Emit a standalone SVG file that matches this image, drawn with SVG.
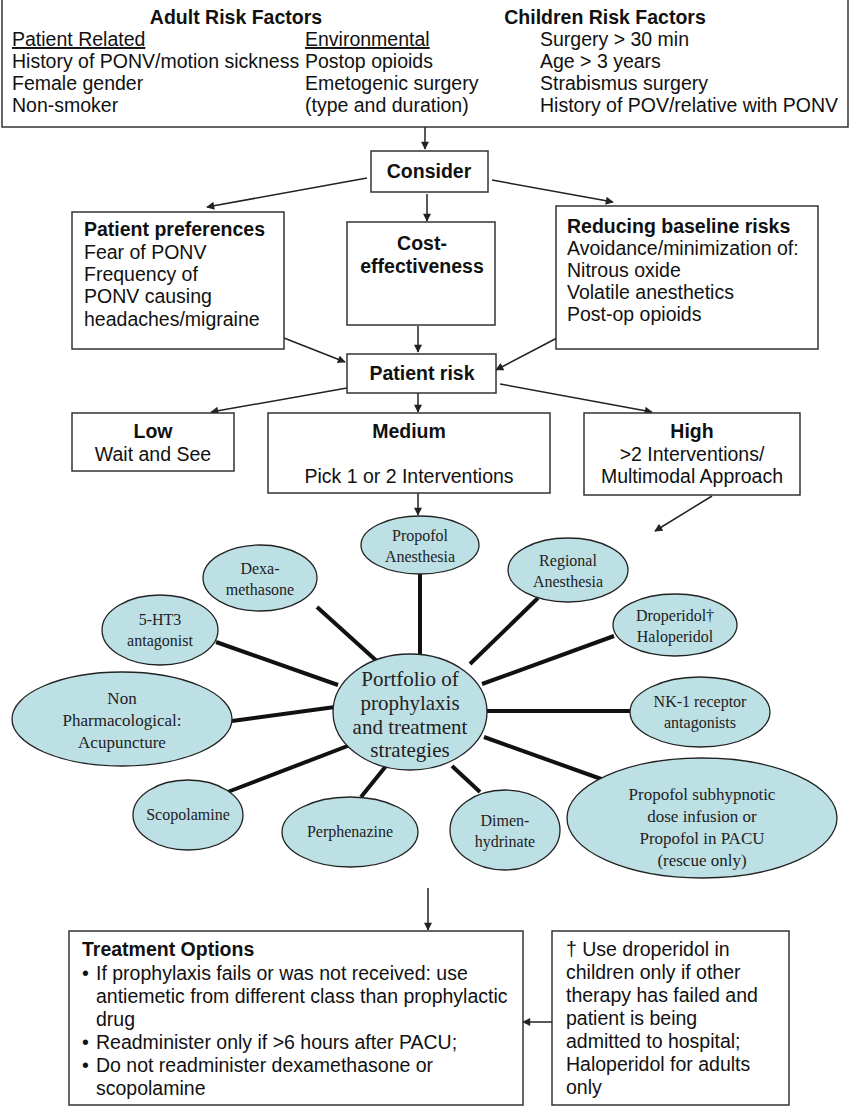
<svg xmlns="http://www.w3.org/2000/svg" width="850" height="1117" viewBox="0 0 850 1117">
<style>
.box{fill:#fff;stroke:#333;stroke-width:1.5}
.t{font-family:"Liberation Sans",Arial,sans-serif;font-size:19.5px;fill:#111}
.b{font-weight:bold}
.m{text-anchor:middle}
.ell{fill:#bde0e5;stroke:#222;stroke-width:1.3}
.s{font-family:"Liberation Serif","Times New Roman",serif;font-size:16px;fill:#222;text-anchor:middle}
.arr{stroke:#222;stroke-width:1.5;fill:none;marker-end:url(#ah)}
.spoke{stroke:#111;stroke-width:4;fill:none}
</style>
<defs>
<marker id="ah" viewBox="0 0 10 10" refX="9" refY="5" markerWidth="9" markerHeight="8" markerUnits="userSpaceOnUse" orient="auto">
<path d="M0,0 L10,5 L0,10 z" fill="#222"/>
</marker>
</defs>
<rect width="850" height="1117" fill="#fff"/>

<g id="connectors">
<line class="arr" x1="425" y1="127" x2="425" y2="149"/>
<line class="arr" x1="367" y1="178" x2="207" y2="207"/>
<line class="arr" x1="427" y1="194" x2="427" y2="221"/>
<line class="arr" x1="492" y1="180" x2="613" y2="202"/>
<line class="arr" x1="284" y1="338" x2="345" y2="362"/>
<line class="arr" x1="418" y1="326" x2="418" y2="352"/>
<line class="arr" x1="557" y1="338" x2="496" y2="370"/>
<line class="arr" x1="347" y1="388" x2="211" y2="412"/>
<line class="arr" x1="418" y1="393" x2="418" y2="412"/>
<line class="arr" x1="500" y1="384" x2="652" y2="412"/>
<line class="arr" x1="418" y1="493" x2="418" y2="515"/>
<line class="arr" x1="712" y1="496" x2="655" y2="531"/>
<line class="spoke" x1="420" y1="574" x2="420" y2="655"/>
<line class="spoke" x1="317" y1="607" x2="380" y2="664"/>
<line class="spoke" x1="538" y1="598" x2="470" y2="664"/>
<line class="spoke" x1="614" y1="636" x2="482" y2="684"/>
<line class="spoke" x1="216" y1="642" x2="338" y2="685"/>
<line class="spoke" x1="487" y1="711" x2="630" y2="711"/>
<line class="spoke" x1="232" y1="721" x2="335" y2="707"/>
<line class="spoke" x1="225" y1="793" x2="358" y2="742"/>
<line class="spoke" x1="361" y1="797" x2="386" y2="766"/>
<line class="spoke" x1="480" y1="792" x2="452" y2="766"/>
<line class="spoke" x1="604" y1="780" x2="484" y2="737"/>
<line class="arr" x1="428" y1="888" x2="428" y2="930"/>
<line class="arr" x1="552" y1="1022" x2="523" y2="1022"/>
</g>

<g id="risk-factors">
<rect class="box" x="2" y="-2" width="846" height="129"/>
<text class="t b m" x="236" y="24">Adult Risk Factors</text>
<text class="t b m" x="605" y="24">Children Risk Factors</text>
<text class="t" x="12" y="46" text-decoration="underline">Patient Related</text>
<text class="t" x="12" y="68">History of PONV/motion sickness</text>
<text class="t" x="12" y="90">Female gender</text>
<text class="t" x="12" y="112">Non-smoker</text>
<text class="t" x="305" y="46" text-decoration="underline">Environmental</text>
<text class="t" x="305" y="68">Postop opioids</text>
<text class="t" x="305" y="90">Emetogenic surgery</text>
<text class="t" x="305" y="112">(type and duration)</text>
<text class="t" x="540" y="46">Surgery &gt; 30 min</text>
<text class="t" x="540" y="68">Age &gt; 3 years</text>
<text class="t" x="540" y="90">Strabismus surgery</text>
<text class="t" x="540" y="112">History of POV/relative with PONV</text>
</g>

<g id="consider">
<rect class="box" x="371" y="151" width="117" height="41"/>
<text class="t b m" x="429" y="178">Consider</text>
</g>

<g id="patient-preferences">
<rect class="box" x="72" y="212" width="212" height="137"/>
<text class="t b" x="84" y="236">Patient preferences</text>
<text class="t" x="84" y="259">Fear of PONV</text>
<text class="t" x="84" y="281">Frequency of</text>
<text class="t" x="84" y="303">PONV causing</text>
<text class="t" x="84" y="326">headaches/migraine</text>
</g>

<g id="cost-effectiveness">
<rect class="box" x="347" y="222" width="148" height="103"/>
<text class="t b m" x="422" y="250">Cost-</text>
<text class="t b m" x="422" y="273">effectiveness</text>
</g>

<g id="reducing-risks">
<rect class="box" x="556" y="206" width="262" height="143"/>
<text class="t b" x="567" y="233">Reducing baseline risks</text>
<text class="t" x="567" y="255">Avoidance/minimization of:</text>
<text class="t" x="567" y="277">Nitrous oxide</text>
<text class="t" x="567" y="299">Volatile anesthetics</text>
<text class="t" x="567" y="321">Post-op opioids</text>
</g>

<g id="patient-risk">
<rect class="box" x="347" y="354" width="149" height="39"/>
<text class="t b m" x="422" y="380">Patient risk</text>
</g>

<g id="low">
<rect class="box" x="72" y="413" width="162" height="58"/>
<text class="t b m" x="153" y="438">Low</text>
<text class="t m" x="153" y="461">Wait and See</text>
</g>

<g id="medium">
<rect class="box" x="268" y="413" width="282" height="80"/>
<text class="t b m" x="409" y="438">Medium</text>
<text class="t m" x="409" y="483">Pick 1 or 2 Interventions</text>
</g>

<g id="high">
<rect class="box" x="584" y="413" width="216" height="82"/>
<text class="t b m" x="692" y="438">High</text>
<text class="t m" x="692" y="461">&gt;2 Interventions/</text>
<text class="t m" x="692" y="483">Multimodal Approach</text>
</g>

<g id="propofol-anesthesia">
<ellipse class="ell" cx="420" cy="545" rx="59" ry="29"/>
<text class="s" x="420" y="541">Propofol</text>
<text class="s" x="420" y="562">Anesthesia</text>
</g>
<g id="dexamethasone">
<ellipse class="ell" cx="260" cy="578" rx="57" ry="33"/>
<text class="s" x="260" y="574">Dexa-</text>
<text class="s" x="260" y="595">methasone</text>
</g>
<g id="regional-anesthesia">
<ellipse class="ell" cx="568" cy="570" rx="60" ry="32"/>
<text class="s" x="568" y="566">Regional</text>
<text class="s" x="568" y="587">Anesthesia</text>
</g>
<g id="droperidol">
<ellipse class="ell" cx="675" cy="625" rx="62" ry="31"/>
<text class="s" x="675" y="621">Droperidol†</text>
<text class="s" x="675" y="642">Haloperidol</text>
</g>
<g id="5ht3">
<ellipse class="ell" cx="160" cy="630" rx="58" ry="35"/>
<text class="s" x="160" y="625">5-HT3</text>
<text class="s" x="160" y="646">antagonist</text>
</g>
<g id="portfolio">
<ellipse class="ell" cx="410" cy="712" rx="77" ry="58"/>
<text class="s" x="410" y="686" style="font-size:21px">Portfolio of</text>
<text class="s" x="410" y="710" style="font-size:21px">prophylaxis</text>
<text class="s" x="410" y="734" style="font-size:21px">and treatment</text>
<text class="s" x="410" y="757" style="font-size:21px">strategies</text>
</g>
<g id="nk1">
<ellipse class="ell" cx="700" cy="712" rx="70" ry="35"/>
<text class="s" x="700" y="707">NK-1 receptor</text>
<text class="s" x="700" y="728">antagonists</text>
</g>
<g id="non-pharm">
<ellipse class="ell" cx="122" cy="719" rx="110" ry="47"/>
<text class="s" x="122" y="704" style="font-size:17px">Non</text>
<text class="s" x="122" y="726" style="font-size:17px">Pharmacological:</text>
<text class="s" x="122" y="748" style="font-size:17px">Acupuncture</text>
</g>
<g id="scopolamine">
<ellipse class="ell" cx="188" cy="815" rx="55" ry="35"/>
<text class="s" x="188" y="820">Scopolamine</text>
</g>
<g id="perphenazine">
<ellipse class="ell" cx="350" cy="832" rx="68" ry="35"/>
<text class="s" x="350" y="837">Perphenazine</text>
</g>
<g id="dimenhydrinate">
<ellipse class="ell" cx="505" cy="830" rx="55" ry="40"/>
<text class="s" x="505" y="826">Dimen-</text>
<text class="s" x="505" y="847">hydrinate</text>
</g>
<g id="propofol-subhypnotic">
<ellipse class="ell" cx="702" cy="818" rx="135" ry="60"/>
<text class="s" x="702" y="800" style="font-size:17px">Propofol subhypnotic</text>
<text class="s" x="702" y="822" style="font-size:17px">dose infusion or</text>
<text class="s" x="702" y="844" style="font-size:17px">Propofol in PACU</text>
<text class="s" x="702" y="866" style="font-size:17px">(rescue only)</text>
</g>

<g id="treatment-options">
<rect class="box" x="69" y="931" width="454" height="174"/>
<text class="t b" x="82" y="956">Treatment Options</text>
<text class="t" x="82" y="980">•</text>
<text class="t" x="96" y="980">If prophylaxis fails or was not received: use</text>
<text class="t" x="96" y="1003">antiemetic from different class than prophylactic</text>
<text class="t" x="96" y="1026">drug</text>
<text class="t" x="82" y="1049">•</text>
<text class="t" x="96" y="1049">Readminister only if &gt;6 hours after PACU;</text>
<text class="t" x="82" y="1072">•</text>
<text class="t" x="96" y="1072">Do not readminister dexamethasone or</text>
<text class="t" x="96" y="1095">scopolamine</text>
</g>

<g id="footnote">
<rect class="box" x="552" y="931" width="237" height="174"/>
<text class="t" x="566" y="956">† Use droperidol in</text>
<text class="t" x="566" y="979">children only if other</text>
<text class="t" x="566" y="1002">therapy has failed and</text>
<text class="t" x="566" y="1025">patient is being</text>
<text class="t" x="566" y="1048">admitted to hospital;</text>
<text class="t" x="566" y="1071">Haloperidol for adults</text>
<text class="t" x="566" y="1094">only</text>
</g>
</svg>
